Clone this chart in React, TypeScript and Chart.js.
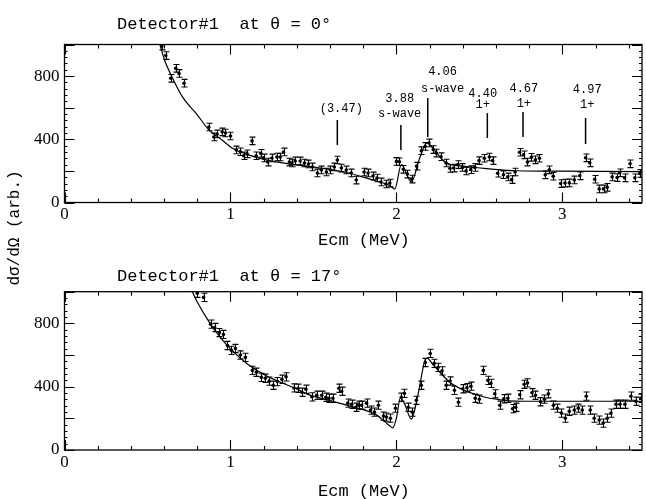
import React, { useEffect, useRef } from 'react';
import { Chart, registerables } from 'chart.js';

Chart.register(...registerables);

// ---------- data: top panel (theta = 0 deg) ----------
const topE = [0.587, 0.61, 0.64, 0.67, 0.69, 0.72, 0.87, 0.9, 0.92, 0.95, 0.97, 1.0, 1.035, 1.06, 1.08, 1.1, 1.13, 1.155, 1.183, 1.2, 1.225, 1.25, 1.28, 1.3, 1.32, 1.355, 1.37, 1.39, 1.42, 1.446, 1.47, 1.494, 1.524, 1.548, 1.578, 1.602, 1.626, 1.644, 1.668, 1.698, 1.728, 1.758, 1.805, 1.829, 1.859, 1.883, 1.907, 1.937, 1.96, 2.0, 2.018, 2.042, 2.066, 2.092, 2.122, 2.15, 2.174, 2.196, 2.222, 2.24, 2.269, 2.299, 2.323, 2.345, 2.371, 2.398, 2.42, 2.448, 2.472, 2.498, 2.53, 2.56, 2.58, 2.61, 2.645, 2.671, 2.695, 2.715, 2.742, 2.766, 2.79, 2.814, 2.838, 2.862, 2.897, 2.922, 2.945, 2.99, 3.016, 3.042, 3.072, 3.105, 3.14, 3.165, 3.195, 3.222, 3.248, 3.27, 3.3, 3.33, 3.345, 3.375, 3.408, 3.437, 3.467];
const topV = [990, 930, 786, 849, 817, 755, 478, 415, 434, 447, 440, 421, 333, 321, 296, 308, 390, 296, 311, 282, 256, 282, 288, 288, 320, 256, 250, 263, 263, 250, 244, 225, 187, 206, 193, 206, 225, 269, 218, 206, 187, 142, 193, 187, 168, 155, 130, 117, 123, 260, 258, 210, 180, 148, 230, 328, 355, 377, 335, 313, 290, 250, 215, 218, 240, 222, 200, 208, 222, 265, 280, 288, 265, 185, 176, 162, 145, 193, 318, 302, 256, 286, 270, 280, 175, 207, 166, 120, 123, 124, 143, 169, 283, 251, 147, 86, 86, 96, 162, 158, 188, 156, 245, 156, 184];
const topFitE = [0.575, 0.6, 0.65, 0.713, 0.8, 0.87, 0.95, 1.01, 1.1, 1.215, 1.35, 1.515, 1.7, 1.85, 1.93, 1.97, 1.99, 2.03, 2.09, 2.14, 2.184, 2.23, 2.29, 2.4, 2.49, 2.73, 3.0, 3.48];
const topFitV = [1000, 910, 790, 665, 555, 460, 395, 345, 305, 270, 245, 222, 190, 145, 120, 100, 85, 240, 130, 280, 378, 330, 258, 230, 220, 201, 198, 195];
const topErr = 24;

// level markers (top panel)
const markerE = [1.644, 2.027, 2.189, 2.548, 2.763, 3.14];
const markerLo = [364, 332, 415, 408, 415, 370];
const markerHi = [522, 491, 661, 566, 573, 535];
const markerLabelE = [1.668, 2.02, 2.278, 2.52, 2.768, 3.15];
const markerText1 = ['', '3.88', '4.06', '4.40', '4.67', '4.97'];
const markerText1V = [0, 636, 807, 668, 699, 693];
const markerText2 = ['(3.47)', 's-wave', 's-wave', '1+', '1+', '1+'];
const markerText2V = [573, 541, 700, 598, 604, 598];

// ---------- data: bottom panel (theta = 17 deg) ----------
const botE = [0.8, 0.838, 0.88, 0.905, 0.934, 0.958, 0.982, 1.006, 1.03, 1.06, 1.09, 1.132, 1.156, 1.186, 1.21, 1.234, 1.258, 1.283, 1.31, 1.335, 1.383, 1.407, 1.43, 1.455, 1.49, 1.52, 1.55, 1.575, 1.593, 1.617, 1.653, 1.67, 1.707, 1.73, 1.754, 1.772, 1.79, 1.82, 1.844, 1.868, 1.892, 1.922, 1.94, 1.964, 1.994, 2.03, 2.048, 2.072, 2.096, 2.12, 2.15, 2.174, 2.204, 2.228, 2.251, 2.275, 2.3, 2.323, 2.35, 2.374, 2.4, 2.425, 2.449, 2.475, 2.5, 2.524, 2.551, 2.569, 2.593, 2.623, 2.647, 2.671, 2.7, 2.719, 2.743, 2.77, 2.79, 2.817, 2.838, 2.868, 2.892, 2.916, 2.946, 2.97, 2.994, 3.018, 3.042, 3.072, 3.096, 3.12, 3.144, 3.168, 3.192, 3.222, 3.246, 3.27, 3.293, 3.323, 3.347, 3.377, 3.413, 3.443, 3.473];
const botV = [990, 964, 795, 774, 742, 730, 660, 629, 641, 600, 585, 503, 491, 459, 453, 435, 409, 432, 447, 462, 392, 390, 365, 384, 336, 346, 346, 333, 327, 327, 390, 371, 296, 289, 270, 283, 283, 296, 252, 239, 283, 214, 208, 201, 264, 333, 358, 270, 239, 314, 409, 553, 610, 547, 522, 500, 409, 436, 377, 302, 387, 393, 403, 327, 321, 503, 440, 421, 355, 283, 324, 327, 261, 270, 349, 415, 424, 362, 346, 305, 321, 355, 283, 264, 233, 201, 245, 252, 264, 252, 340, 252, 201, 189, 170, 201, 233, 289, 289, 289, 340, 308, 327];
const botFitE = [0.77, 0.8, 0.874, 0.94, 1.01, 1.1, 1.21, 1.31, 1.4, 1.47, 1.58, 1.71, 1.874, 1.952, 1.978, 2.0, 2.024, 2.05, 2.09, 2.13, 2.17, 2.185, 2.22, 2.33, 2.49, 2.65, 2.81, 3.48];
const botFitV = [1000, 935, 805, 710, 629, 545, 472, 425, 385, 350, 318, 280, 225, 160, 140, 200, 330, 290, 195, 350, 560, 580, 540, 421, 346, 314, 308, 308];
const botErr = 26;

// ---------- text ----------
const topTitle = 'Detector#1  at \u03b8 = 0\u00b0';
const botTitle = 'Detector#1  at \u03b8 = 17\u00b0';
const xTitle = 'Ecm (MeV)';
const yTitle = 'd\u03c3/d\u03a9 (arb.)';

const xMin = 0;
const xMax = 3.48;
const yMin = 0;
const yMax = 1000;

const MONO = '"Liberation Mono", "DejaVu Sans Mono", monospace';
const SERIF = '"Liberation Serif", "DejaVu Serif", serif';

const decorPlugin = {
  id: 'decor',
  afterDatasetsDraw(chart: any) {
    const cfg = chart.options.plugins.decor;
    const { ctx, chartArea: a, scales } = chart;
    const x = scales.x;
    const y = scales.y;
    ctx.save();
    ctx.beginPath();
    ctx.rect(a.left, a.top, a.right - a.left, a.bottom - a.top);
    ctx.clip();
    ctx.strokeStyle = '#000';
    ctx.lineWidth = 1.1;
    const ds = chart.data.datasets[1];
    ds.data.forEach((p: any) => {
      const px = Math.round(x.getPixelForValue(p.x)) + 0.5;
      const y1 = y.getPixelForValue(p.y - cfg.err);
      const y2 = y.getPixelForValue(p.y + cfg.err);
      ctx.beginPath();
      ctx.moveTo(px, y1);
      ctx.lineTo(px, y2);
      ctx.moveTo(px - 3, y1);
      ctx.lineTo(px + 3, y1);
      ctx.moveTo(px - 3, y2);
      ctx.lineTo(px + 3, y2);
      ctx.stroke();
    });
    ctx.restore();
  },
  afterDraw(chart: any) {
    const cfg = chart.options.plugins.decor;
    const { ctx, chartArea: a, scales } = chart;
    const x = scales.x;
    const y = scales.y;
    ctx.save();
    ctx.strokeStyle = '#000';
    ctx.fillStyle = '#000';
    ctx.lineWidth = 1.3;
    ctx.strokeRect(a.left, a.top, a.right - a.left, a.bottom - a.top);
    ctx.lineWidth = 1.1;
    // x ticks (inside, bottom and top)
    for (let i = 0; i <= 20; i++) {
      const v = i * 0.2;
      if (v > xMax) break;
      const px = Math.round(x.getPixelForValue(v)) + 0.5;
      const len = i % 5 === 0 ? 10 : 4;
      ctx.beginPath();
      ctx.moveTo(px, a.bottom);
      ctx.lineTo(px, a.bottom - len);
      ctx.moveTo(px, a.top);
      ctx.lineTo(px, a.top + len);
      ctx.stroke();
    }
    // y ticks (inside, left and right)
    for (let v = yMin; v <= yMax; v += 40) {
      const py = Math.round(y.getPixelForValue(v)) + 0.5;
      const len = v % 200 === 0 ? 10 : 3;
      ctx.beginPath();
      ctx.moveTo(a.left, py);
      ctx.lineTo(a.left + len, py);
      ctx.moveTo(a.right, py);
      ctx.lineTo(a.right - len, py);
      ctx.stroke();
    }
    // markers
    if (cfg.markers) {
      ctx.lineWidth = 1.5;
      ctx.textAlign = 'center';
      ctx.textBaseline = 'alphabetic';
      ctx.font = '12px ' + MONO;
      markerE.forEach((e, i) => {
        const px = x.getPixelForValue(e);
        ctx.beginPath();
        ctx.moveTo(px, y.getPixelForValue(markerLo[i]));
        ctx.lineTo(px, y.getPixelForValue(markerHi[i]));
        ctx.stroke();
        const lx = x.getPixelForValue(markerLabelE[i]);
        if (markerText1[i]) ctx.fillText(markerText1[i], lx, y.getPixelForValue(markerText1V[i]));
        if (markerText2[i]) ctx.fillText(markerText2[i], lx, y.getPixelForValue(markerText2V[i]));
      });
    }
    // titles
    ctx.textAlign = 'left';
    ctx.textBaseline = 'alphabetic';
    ctx.font = '17px ' + MONO;
    ctx.fillText(cfg.title, 117, cfg.titleY);
    ctx.fillText(xTitle, 318, cfg.xTitleY);
    if (cfg.yTitle) {
      ctx.translate(15, 228);
      ctx.rotate(-Math.PI / 2);
      ctx.textAlign = 'center';
      ctx.textBaseline = 'middle';
      ctx.font = '16px ' + MONO;
      ctx.fillText(yTitle, 0, 0);
    }
    ctx.restore();
  },
};

function makeConfig(p: any): any {
  return {
    type: 'scatter',
    data: {
      datasets: [
        {
          data: p.fitE.map((e: number, i: number) => ({ x: e, y: p.fitV[i] })),
          showLine: true,
          pointRadius: 0,
          borderColor: '#000',
          borderWidth: 1.2,
          cubicInterpolationMode: 'monotone',
          fill: false,
        },
        {
          data: p.E.map((e: number, i: number) => ({ x: e, y: p.V[i] })),
          showLine: false,
          pointRadius: 1.8,
          pointBackgroundColor: '#000',
          pointBorderWidth: 0,
        },
      ],
    },
    options: {
      responsive: false,
      animation: false,
      devicePixelRatio: 1,
      layout: { padding: { top: p.areaTop, bottom: 499 - p.areaBottom - 30, left: 0, right: 1 } },
      plugins: {
        legend: { display: false },
        tooltip: { enabled: false },
        decor: p.decor,
      },
      scales: {
        x: {
          type: 'linear',
          min: xMin,
          max: xMax,
          afterFit: (s: any) => { s.height = 30; },
          grid: { display: false, drawTicks: false },
          border: { display: false },
          ticks: {
            stepSize: 1,
            includeBounds: false,
            autoSkip: false,
            maxRotation: 0,
            padding: 2,
            color: '#000',
            font: { family: SERIF, size: 17 },
            callback: (v: number) => String(v),
          },
        },
        y: {
          type: 'linear',
          min: yMin,
          max: yMax,
          afterFit: (s: any) => { s.width = 64.5; },
          grid: { display: false, drawTicks: false },
          border: { display: false },
          ticks: {
            stepSize: 200,
            autoSkip: false,
            padding: 5,
            color: '#000',
            font: { family: SERIF, size: 17 },
            callback: (v: number) => (v % 400 === 0 ? String(v) : ''),
          },
        },
      },
    },
    plugins: [decorPlugin],
  };
}

export default function App() {
  const topRef = useRef<HTMLCanvasElement>(null);
  const botRef = useRef<HTMLCanvasElement>(null);

  useEffect(() => {
    const c1 = new Chart(topRef.current as HTMLCanvasElement, makeConfig({
      E: topE, V: topV, fitE: topFitE, fitV: topFitV,
      areaTop: 44.5, areaBottom: 202.5,
      decor: { err: topErr, markers: true, title: topTitle, titleY: 29, xTitleY: 245, yTitle: true },
    }));
    const c2 = new Chart(botRef.current as HTMLCanvasElement, makeConfig({
      E: botE, V: botV, fitE: botFitE, fitV: botFitV,
      areaTop: 291.7, areaBottom: 450,
      decor: { err: botErr, markers: false, title: botTitle, titleY: 281, xTitleY: 496, yTitle: false },
    }));
    return () => {
      c1.destroy();
      c2.destroy();
    };
  }, []);

  return (
    <div style={{ position: 'fixed', left: 0, top: 0, width: 646, height: 499, background: '#fff' }}>
      <canvas ref={topRef} width={646} height={499} style={{ position: 'absolute', left: 0, top: 0 }} />
      <canvas ref={botRef} width={646} height={499} style={{ position: 'absolute', left: 0, top: 0 }} />
    </div>
  );
}
